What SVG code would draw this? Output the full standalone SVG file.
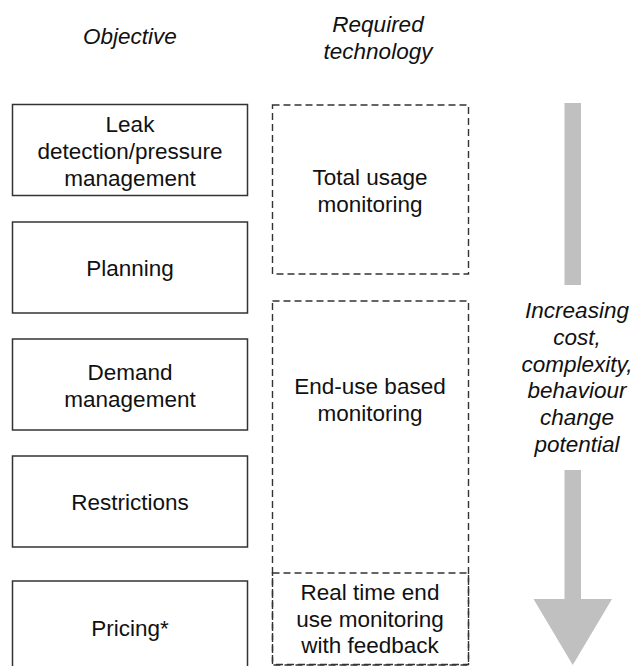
<svg xmlns="http://www.w3.org/2000/svg" width="632" height="666" viewBox="0 0 632 666">
<style>
text{font-family:"Liberation Sans",Arial,sans-serif;font-size:22.5px;fill:#111;text-anchor:middle}
.it{font-style:italic}
.obj{fill:#fff;stroke:#333;stroke-width:1.5}
.tech{fill:none;stroke:#333;stroke-width:1.4;stroke-dasharray:7 4}
.arr{fill:#c0c0c0}
</style>
<rect width="632" height="666" fill="#fff"/>
<g id="headers">
<text class="it" x="130" y="44">Objective</text>
<text class="it" x="378" y="31.5">Required</text>
<text class="it" x="378" y="58.5">technology</text>
</g>
<g id="obj-leak">
<rect class="obj" x="12.5" y="104.5" width="235" height="91"/>
<text x="130" y="131.5">Leak</text>
<text x="130" y="158.5">detection/pressure</text>
<text x="130" y="185.5">management</text>
</g>
<g id="obj-planning">
<rect class="obj" x="12.5" y="222" width="235" height="91"/>
<text x="130" y="275.5">Planning</text>
</g>
<g id="obj-demand">
<rect class="obj" x="12.5" y="339" width="235" height="91"/>
<text x="130" y="380">Demand</text>
<text x="130" y="407">management</text>
</g>
<g id="obj-restrictions">
<rect class="obj" x="12.5" y="456" width="235" height="91"/>
<text x="130" y="510">Restrictions</text>
</g>
<g id="obj-pricing">
<rect class="obj" x="12.5" y="581" width="235" height="92"/>
<text x="130" y="636">Pricing*</text>
</g>
<g id="tech-total">
<rect class="tech" x="272.5" y="105" width="196" height="169"/>
<text x="370" y="184.5">Total usage</text>
<text x="370" y="211.5">monitoring</text>
</g>
<g id="tech-enduse">
<rect class="tech" x="272.5" y="301" width="196" height="364"/>
<text x="370" y="394">End-use based</text>
<text x="370" y="421">monitoring</text>
</g>
<g id="tech-realtime">
<rect class="tech" x="272.5" y="573" width="196" height="91.5"/>
<text x="370" y="600">Real time end</text>
<text x="370" y="626.5">use monitoring</text>
<text x="370" y="653">with feedback</text>
</g>
<g id="connectors">
<rect class="arr" x="564.5" y="103" width="16.5" height="182"/>
<polygon class="arr" points="564.5,470 581,470 581,599 612,599 572.75,665 533.5,599 564.5,599"/>
</g>
<g id="arrow-label">
<text class="it" x="577" y="318">Increasing</text>
<text class="it" x="577" y="345">cost,</text>
<text class="it" x="577" y="372">complexity,</text>
<text class="it" x="577" y="398">behaviour</text>
<text class="it" x="577" y="425">change</text>
<text class="it" x="577" y="452">potential</text>
</g>
</svg>
